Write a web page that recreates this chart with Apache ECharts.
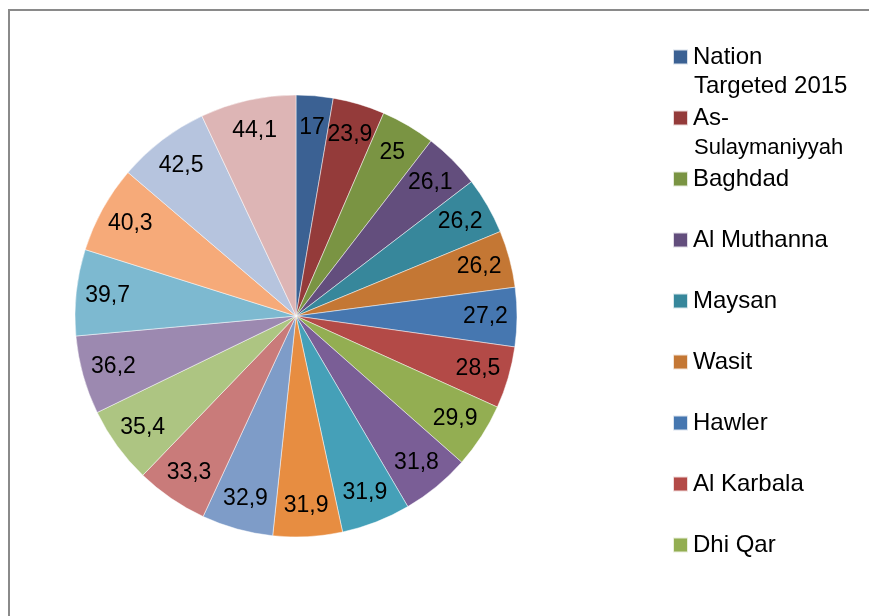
<!DOCTYPE html>
<html>
<head>
<meta charset="utf-8">
<script src="https://cdn.jsdelivr.net/npm/echarts@6/dist/echarts.min.js"></script>
<style>
  html, body { margin: 0; padding: 0; background: #fff; }
  #box { width: 869px; height: 616px; }
</style>
</head>
<body>
<div id="box"></div>
<script>
var chart = echarts.init(document.getElementById('box'));

// slice names (only the first 9 are listed in the legend)
var names = ['Nation Targeted 2015', 'As-Sulaymaniyyah', 'Baghdad', 'Al Muthanna', 'Maysan',
    'Wasit', 'Hawler', 'Al Karbala', 'Dhi Qar', 'Diyala', 'Al Qadisiyyah', 'Babil',
    'Kirkuk', 'Dahuk', 'An Najaf', 'Al Basrah', 'Ninewa', 'Salah ad-Din', 'Al Anbar', 'Iraq'];
var values = [17, 23.9, 25, 26.1, 26.2, 26.2, 27.2, 28.5, 29.9, 31.8,
    31.9, 31.9, 32.9, 33.3, 35.4, 36.2, 39.7, 40.3, 42.5, 44.1];
var colors = ['#3B6193', '#943B3A', '#7A9443', '#634E7D', '#37879B', '#C47734',
    '#4677B0', '#B34A47', '#93AE52', '#7A5E96', '#45A0B8', '#E78D41',
    '#7E9CC8', '#C97B7A', '#ADC582', '#9C89B0', '#7DB9D0', '#F6AA79', '#B6C4DE', '#DDB5B5'];
var legendNames = names.slice(0, 9);
// first line shown in legend, second line written below it
var legendFirst = {'Nation Targeted 2015': 'Nation', 'As-Sulaymaniyyah': 'As-'};

var pieData = names.map(function (n, i) {
    return {name: n, value: values[i]};
});

var font = 'Liberation Sans, Arial, sans-serif';

option = {
    color: colors,
    animation: false,
    graphic: [
        {   // chart frame
            type: 'rect',
            shape: {x: 9, y: 10, width: 1000, height: 1000},
            style: {fill: 'none', stroke: '#8a8a8a', lineWidth: 2},
            silent: true
        },
        {
            type: 'text', left: 694, top: 74,
            style: {text: 'Targeted 2015', fontSize: 24, fontFamily: font, fill: '#000'}
        },
        {
            type: 'text', left: 694, top: 137,
            style: {text: 'Sulaymaniyyah', fontSize: 22, fontFamily: font, fill: '#000'}
        }
    ],
    legend: {
        orient: 'vertical',
        left: 672,
        top: 42,
        padding: 0,
        itemWidth: 15,
        itemHeight: 15,
        itemGap: 31,
        icon: 'rect',
        data: legendNames,
        formatter: function (n) {
            return legendFirst[n] || n;
        },
        textStyle: {
            fontSize: 24,
            lineHeight: 30,
            fontFamily: font,
            color: '#000'
        }
    },
    series: [
        {
            name: 'pie',
            type: 'pie',
            center: [296, 316],
            radius: [0, 221],
            startAngle: 90,
            data: pieData,
            label: {show: false},
            labelLine: {show: false},
            itemStyle: {borderColor: 'rgba(255,255,255,0.8)', borderWidth: 0.6}
        },
        {   // label ring, transparent, so labels sit near the rim
            name: 'labels',
            type: 'pie',
            center: [296, 316],
            radius: [152, 221],
            startAngle: 90,
            silent: true,
            data: pieData,
            itemStyle: {color: 'rgba(0,0,0,0)', borderWidth: 0},
            label: {
                show: true,
                position: 'inside',
                color: '#000',
                fontSize: 23,
                fontFamily: font,
                formatter: function (p) {
                    return String(p.value).replace('.', ',');
                }
            },
            labelLine: {show: false}
        }
    ]
};

chart.setOption(option);
</script>
</body>
</html>
